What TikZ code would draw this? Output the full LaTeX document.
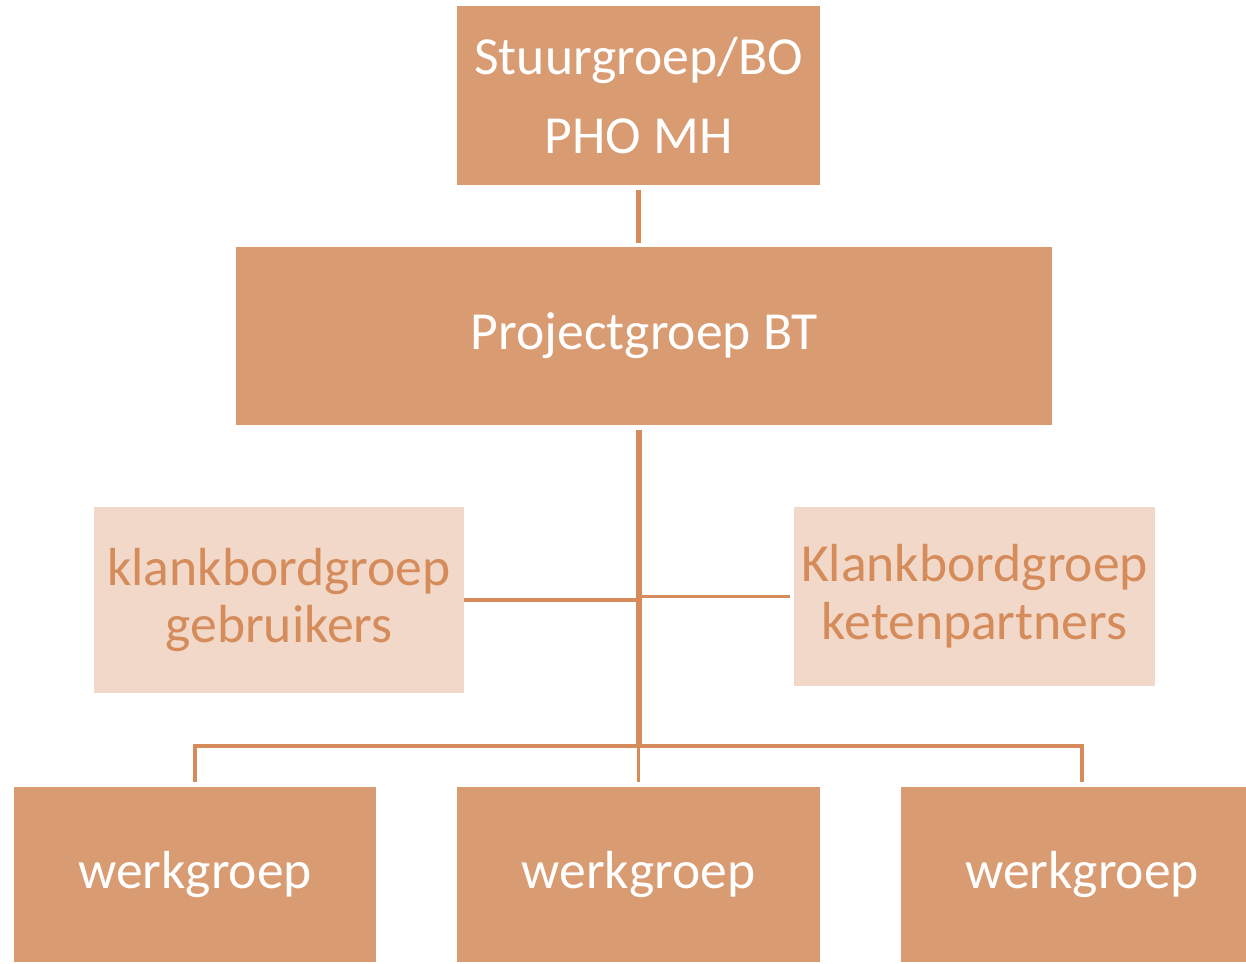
\documentclass[tikz,border=0pt]{standalone}
\usepackage{fontspec}
\setmainfont{Carlito}
\usepackage{xcolor}
\definecolor{oranje}{HTML}{D99B72}
\definecolor{lichtoranje}{HTML}{F1D8C9}
\definecolor{lijnkleur}{HTML}{D58B5A}

\begin{document}
\begin{tikzpicture}[x=0.02cm, y=-0.02cm,
    blok/.style={fill=oranje, text=white, align=center, inner sep=0pt,
        font=\fontsize{30.5}{45}\selectfont},
    klankbord/.style={fill=lichtoranje, text=lijnkleur, align=center, inner sep=0pt,
        font=\fontsize{30.5}{33}\selectfont},
    lijn/.style={draw=lijnkleur, line width=2pt}]
    \useasboundingbox (0,0) rectangle (1246,963);
    % stuurgroep
    \node[blok, minimum width=7.26cm, minimum height=3.58cm] (sg) at (638.5,95.5) {Stuurgroep/BO\\PHO MH};
    % projectgroep
    \node[blok, minimum width=16.32cm, minimum height=3.56cm] (pg) at (644,336) {Projectgroep BT};
    % klankbordgroepen
    \node[klankbord, minimum width=7.40cm, minimum height=3.72cm] (kg) at (279,600) {klankbordgroep\\gebruikers};
    \node[klankbord, minimum width=7.22cm, minimum height=3.58cm] (kp) at (974.5,596.5) {Klankbordgroep\\ketenpartners};
    % werkgroepen
    \node[blok, minimum width=7.24cm, minimum height=3.50cm] (w1) at (195,874.5) {werkgroep};
    \node[blok, minimum width=7.26cm, minimum height=3.50cm] (w2) at (638.5,874.5) {werkgroep};
    \node[blok, minimum width=7.24cm, minimum height=3.50cm] (w3) at (1082,874.5) {werkgroep};

    % verbindingen
    \coordinate (bus) at (639,746);
    \draw[lijn, line width=3.4pt, shorten <=0.1cm, shorten >=0.08cm] (sg.south) -- (sg.south |- pg.north);
    \draw[lijn, line width=3.2pt, shorten <=0.1cm] (bus |- pg.south) -- (bus);
    \draw[lijn] (kg.east) -- (kg.east -| bus);
    \draw[lijn, shorten <=0.08cm] (kp.west) -- (kp.west -| bus);
    \draw[lijn, shorten <=0.1cm, shorten >=0.1cm] (w1.north) -- (w1.north |- bus) -- (w3.north |- bus) -- (w3.north);
    \draw[lijn, shorten <=0.1cm] (w2.north) -- (w2.north |- bus);
\end{tikzpicture}
\end{document}
